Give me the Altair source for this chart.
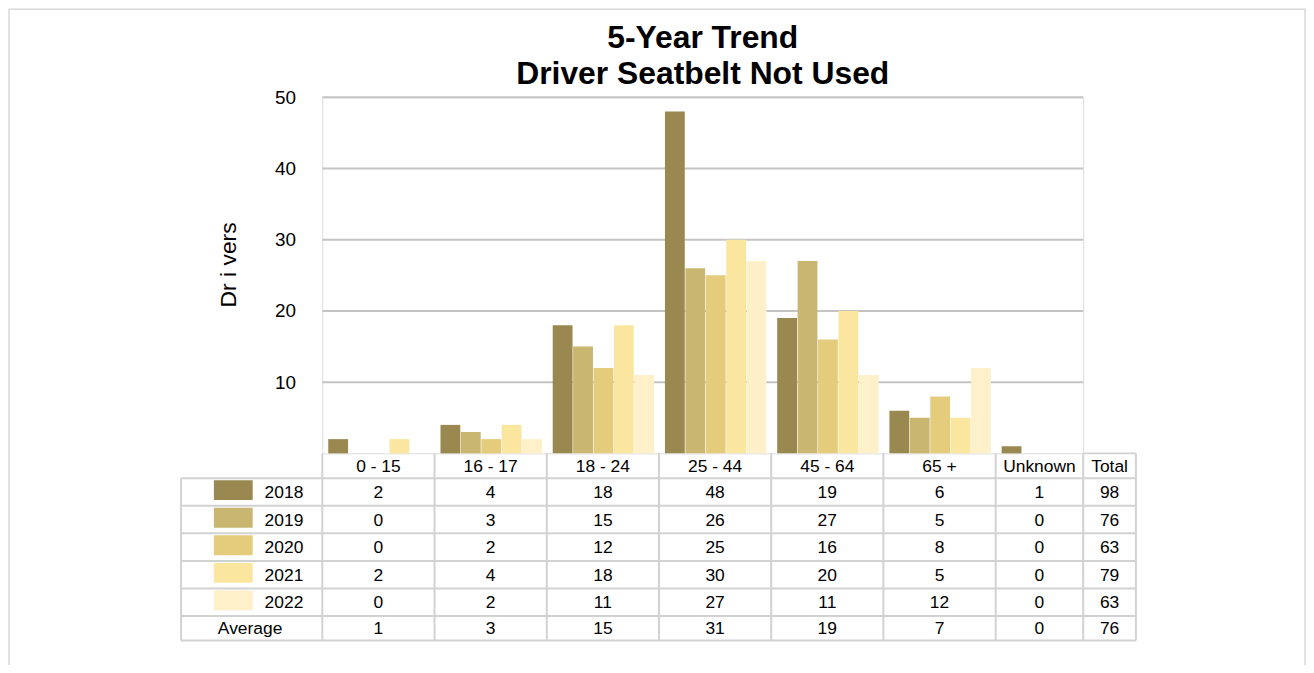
import altair as alt
import pandas as pd

# ---------------- data ----------------
categories = ["0 - 15", "16 - 17", "18 - 24", "25 - 44", "45 - 64", "65 +", "Unknown"]
years = ["2018", "2019", "2020", "2021", "2022"]
v2018 = [2, 4, 18, 48, 19, 6, 1]
v2019 = [0, 3, 15, 26, 27, 5, 0]
v2020 = [0, 2, 12, 25, 16, 8, 0]
v2021 = [2, 4, 18, 30, 20, 5, 0]
v2022 = [0, 2, 11, 27, 11, 12, 0]
average = [1, 3, 15, 31, 19, 7, 0]
year_totals = [98, 76, 63, 79, 63]
average_total = 76
y_ticks = [10, 20, 30, 40, 50]
colors = ["#998850", "#C9B671", "#E5CC7D", "#FBE69F", "#FEF0C8"]

series = [v2018, v2019, v2020, v2021, v2022]

# ---------------- layout (pixels, relative to plot area) ----------------
W, H = 765, 358
STEP = 112.83
FONT = "Liberation Sans"
col_edges = [round(i * STEP, 1) for i in range(7)] + [W, W + 53]
col_centers = [(col_edges[i] + col_edges[i + 1]) / 2 for i in range(8)]
row_edges = [H, H + 25]
for _ in range(5):
    row_edges.append(row_edges[-1] + 27.7)
row_edges.append(row_edges[-1] + 24.6)
row_centers = [(row_edges[i] + row_edges[i + 1]) / 2 for i in range(7)]
TABLE_LEFT = -142
GRID_COL = "#c4c4c4"
TABLE_COL = "#d2d2d2"

# bar data
bars = pd.DataFrame(
    [{"Category": c, "Year": y, "Drivers": s[i]}
     for y, s in zip(years, series) for i, c in enumerate(categories)]
)

# table cell text
cells = []
for i, c in enumerate(categories):
    cells.append({"tx": col_centers[i], "ty": row_centers[0], "label": c})
cells.append({"tx": col_centers[7], "ty": row_centers[0], "label": "Total"})
for r, (y, s) in enumerate(zip(years, series)):
    for i, v in enumerate(s):
        cells.append({"tx": col_centers[i], "ty": row_centers[r + 1], "label": str(v)})
    cells.append({"tx": col_centers[7], "ty": row_centers[r + 1], "label": str(year_totals[r])})
for i, v in enumerate(average):
    cells.append({"tx": col_centers[i], "ty": row_centers[6], "label": str(v)})
cells.append({"tx": col_centers[7], "ty": row_centers[6], "label": str(average_total)})
cells = pd.DataFrame(cells)

row_labels = pd.DataFrame(
    [{"tx": -58, "ty": row_centers[r + 1], "label": y} for r, y in enumerate(years)]
    + [{"tx": -105, "ty": row_centers[6], "label": "Average"}]
)

swatches = pd.DataFrame(
    [{"Year": y, "sx": -109, "sx2": -70, "sy": row_edges[r + 1] + 2, "sy2": row_edges[r + 1] + 22}
     for r, y in enumerate(years)]
)

# table grid segments
segs = []
for ye in row_edges[1:]:
    segs.append({"x1": TABLE_LEFT, "x2": col_edges[-1], "y1": ye, "y2": ye})
segs.append({"x1": W, "x2": col_edges[-1], "y1": H, "y2": H})
segs.append({"x1": TABLE_LEFT, "x2": TABLE_LEFT, "y1": row_edges[1], "y2": row_edges[-1]})
for xe in col_edges:
    segs.append({"x1": xe, "x2": xe, "y1": H, "y2": row_edges[-1]})
segs = pd.DataFrame(segs)

gridlines = pd.DataFrame({"Drivers": y_ticks})
frame = pd.DataFrame({"fx": [-315], "fx2": [988], "fy": [-88.5], "fy2": [620]})

color_scale = alt.Scale(domain=years, range=colors)
y_scale = alt.Scale(domain=[0, 50], nice=False)

# ---------------- chart ----------------
grid_rules = alt.Chart(gridlines).mark_rule(color=GRID_COL, strokeWidth=2).encode(
    y=alt.Y("Drivers:Q", scale=y_scale),
    x=alt.value(0), x2=alt.value(W),
)

bar_layer = alt.Chart(bars).mark_bar().encode(
    x=alt.X("Category:N", sort=categories, axis=None,
            scale=alt.Scale(range=[0, 791], paddingInner=0.096, paddingOuter=0.053)),
    xOffset=alt.XOffset("Year:N", sort=years, scale=alt.Scale(paddingInner=0.03, paddingOuter=0)),
    y=alt.Y("Drivers:Q", scale=y_scale,
            axis=alt.Axis(values=y_ticks, title="Dr i vers", grid=False,
                          labelFontSize=19, labelColor="#000", labelFont=FONT,
                          labelPadding=27, ticks=False, domain=False,
                          titleFontSize=23, titleFont=FONT, titleFontWeight="normal",
                          titleColor="#000", titleX=-94, titleY=168,
                          titleAngle=270, titleAlign="center", titleBaseline="middle")),
    color=alt.Color("Year:N", scale=color_scale, legend=None),
)

grid_layer = alt.Chart(segs).mark_rule(color=TABLE_COL, strokeWidth=2).encode(
    x=alt.X("x1:Q", scale=None), x2="x2:Q",
    y=alt.Y("y1:Q", scale=None), y2="y2:Q",
)

frame_layer = alt.Chart(frame).mark_rect(fill="transparent", stroke="#d9d9d9", strokeWidth=1.5).encode(
    x=alt.X("fx:Q", scale=None), x2="fx2:Q",
    y=alt.Y("fy:Q", scale=None), y2="fy2:Q",
)

swatch_layer = alt.Chart(swatches).mark_rect().encode(
    x=alt.X("sx:Q", scale=None), x2="sx2:Q",
    y=alt.Y("sy:Q", scale=None), y2="sy2:Q",
    color=alt.Color("Year:N", scale=color_scale, legend=None),
)

cell_layer = alt.Chart(cells).mark_text(
    font=FONT, fontSize=17.5, color="#000", align="center", baseline="middle", dy=1
).encode(
    x=alt.X("tx:Q", scale=None), y=alt.Y("ty:Q", scale=None), text="label:N"
)

label_layer = alt.Chart(row_labels).mark_text(
    font=FONT, fontSize=17.5, color="#000", align="left", baseline="middle", dy=1
).encode(
    x=alt.X("tx:Q", scale=None), y=alt.Y("ty:Q", scale=None), text="label:N"
)

chart = alt.layer(
    frame_layer, grid_rules, bar_layer, grid_layer, swatch_layer, cell_layer, label_layer
).properties(
    width=W, height=H,
    title=alt.Title(["5-Year Trend", "Driver Seatbelt Not Used"], fontSize=32, font=FONT,
                    fontWeight="bold", color="#000", anchor="middle", frame="group",
                    lineHeight=36, offset=-83),
    autosize=alt.AutoSizeParams(type="none"),
    padding={"left": 316, "top": 88, "right": 224, "bottom": 211},
).configure_view(
    stroke=GRID_COL, strokeWidth=2
).configure(background="white")

chart.save("out.html", embed_options={"renderer": "svg", "actions": False})
